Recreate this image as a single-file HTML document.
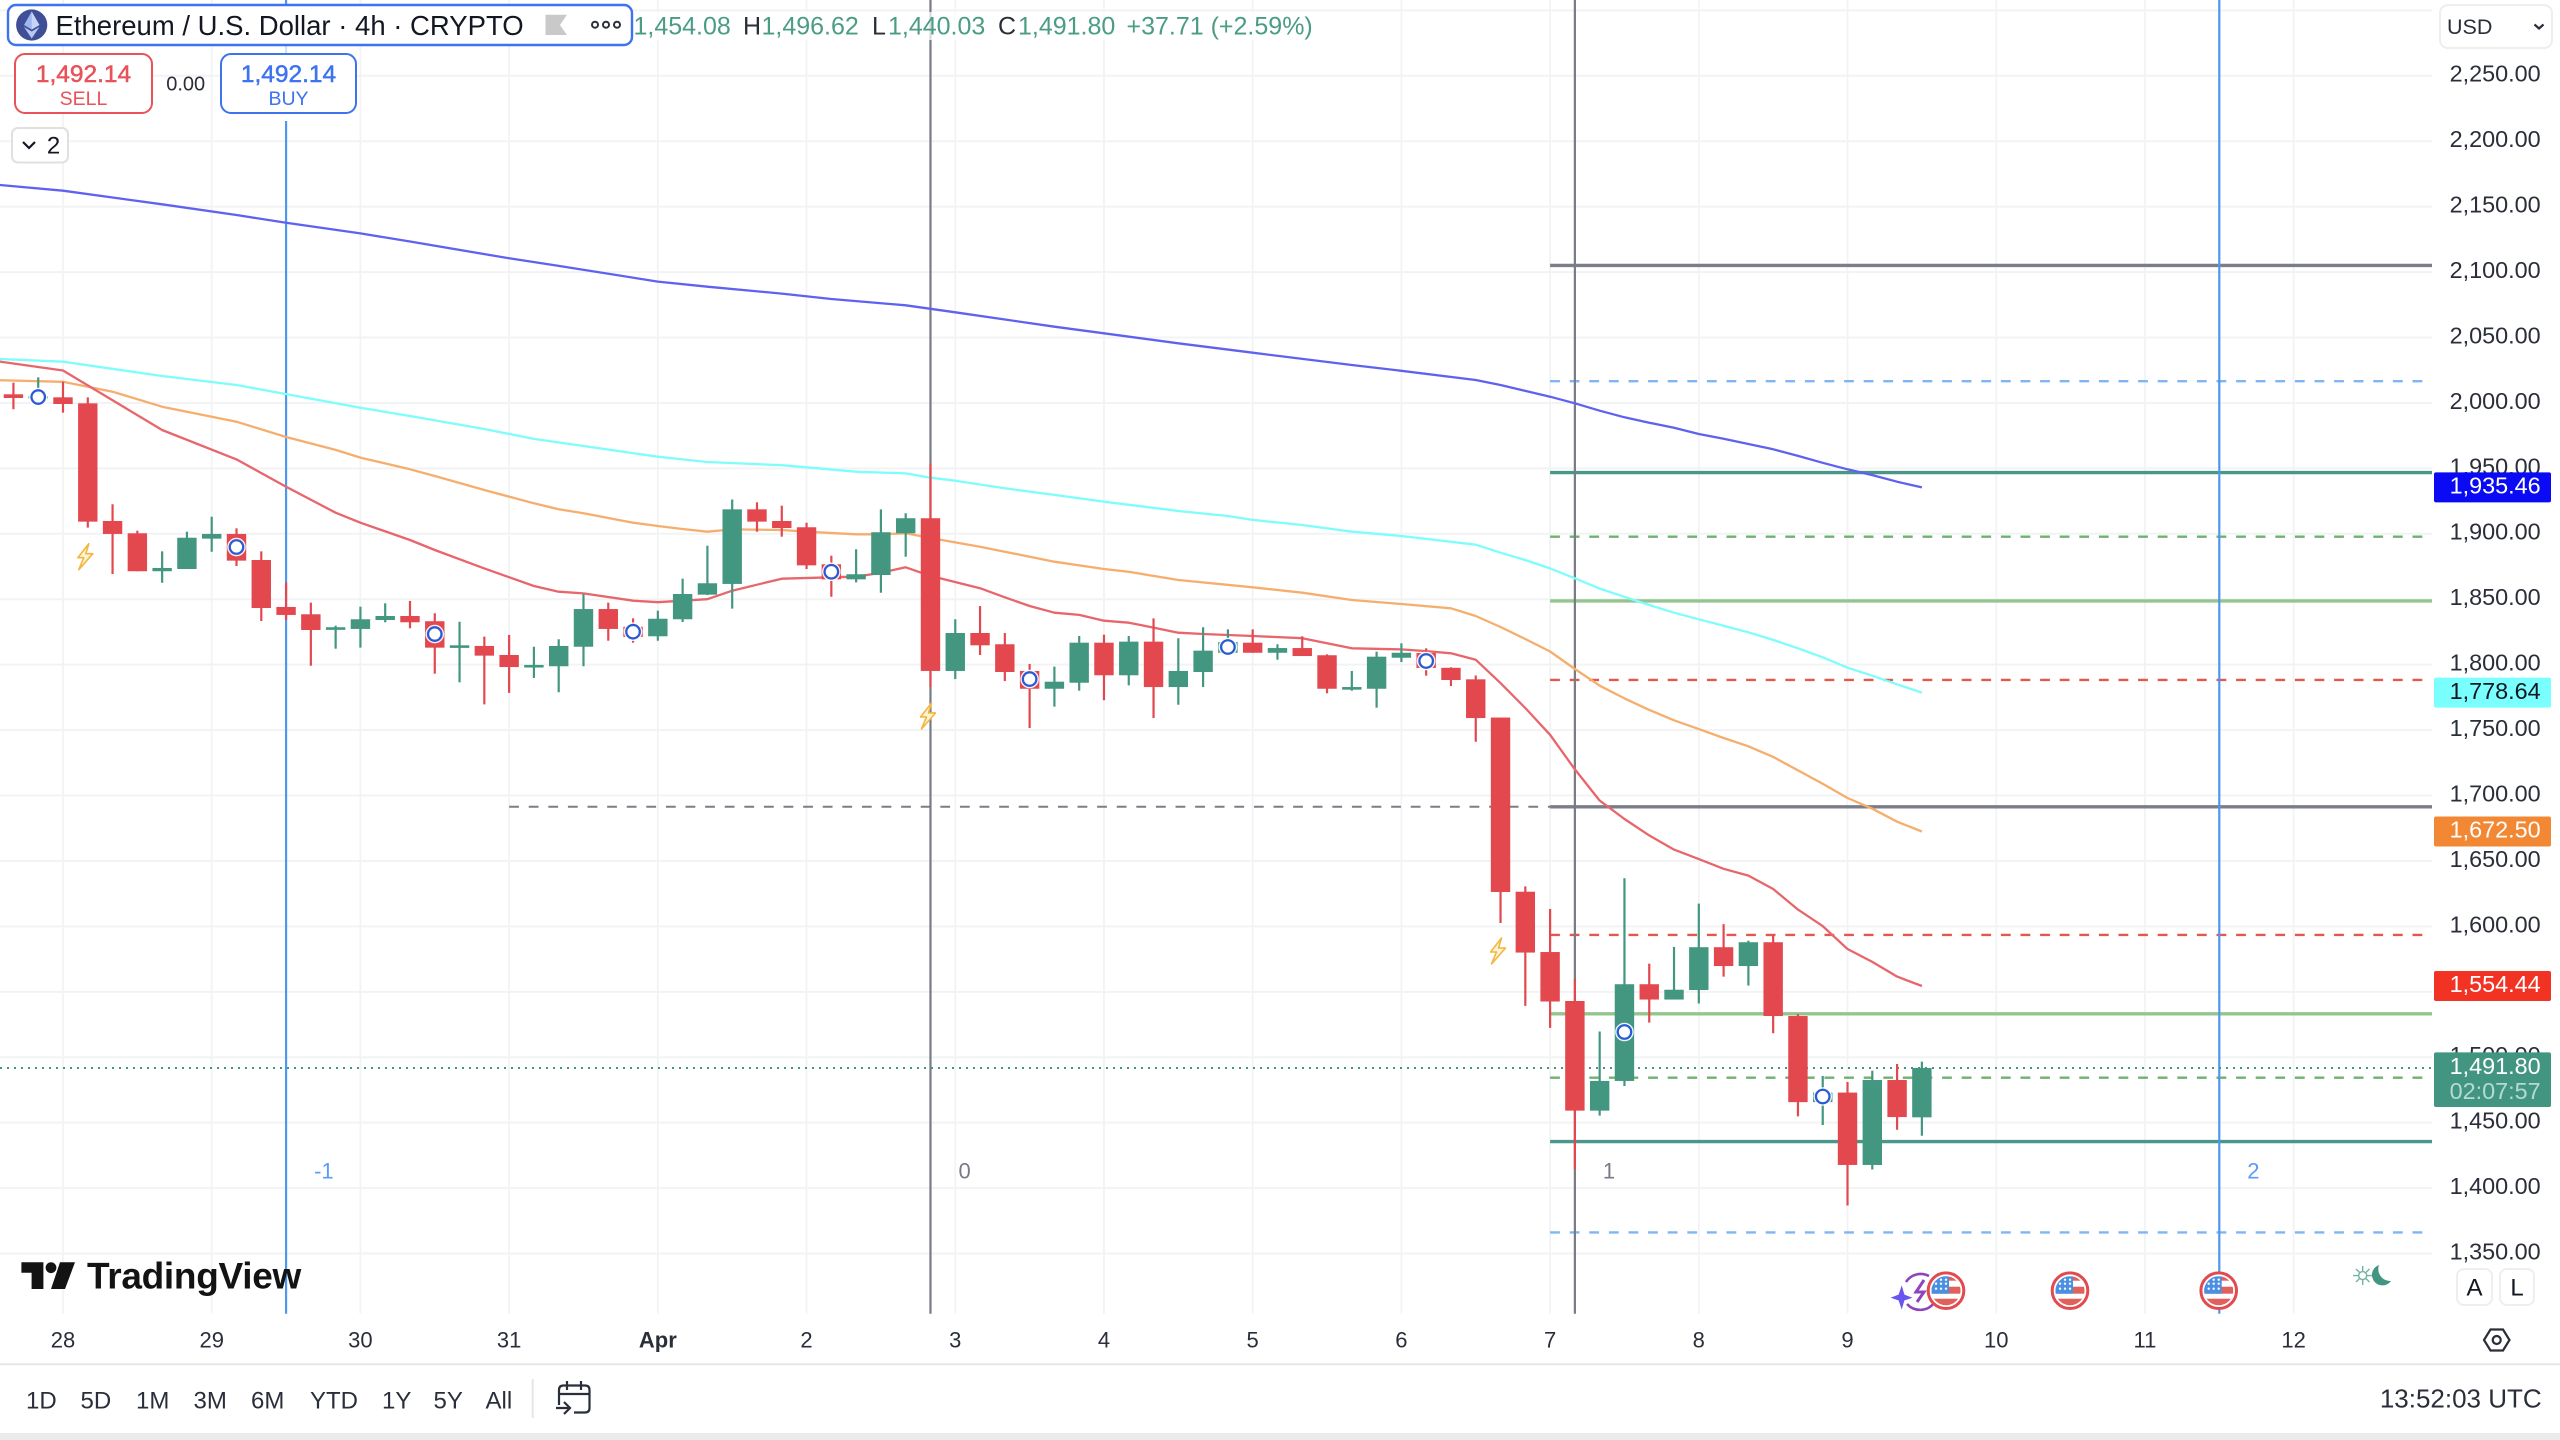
<!DOCTYPE html>
<html lang="en">
<head>
<meta charset="utf-8">
<title>Ethereum / U.S. Dollar 4h chart</title>
<style>
html,body{margin:0;padding:0;background:#fff;}
#chart-root{position:relative;width:2560px;height:1440px;overflow:hidden;background:#fff;font-family:"Liberation Sans",sans-serif;}
svg{display:block;font-family:"Liberation Sans",sans-serif;}
</style>
</head>
<body>
<div id="chart-root">
<svg id="chart" xmlns="http://www.w3.org/2000/svg" width="2560" height="1440" viewBox="0 0 2560 1440">
  <defs>
    <clipPath id="flag-clip"><circle cx="0" cy="0" r="14.5"/></clipPath>
    <clipPath id="plot-clip"><rect x="0" y="0" width="2432" height="1314"/></clipPath>
    <symbol id="us-flag" viewBox="-20 -20 40 40" overflow="visible">
      <circle cx="0" cy="0" r="17.8" fill="#fff" stroke="#e34a4f" stroke-width="3"/>
      <g clip-path="url(#flag-clip)">
        <rect x="-15" y="-4" width="30" height="7" fill="#e0605c"/>
        <rect x="-15" y="8" width="30" height="7" fill="#e0605c"/>
        <rect x="2" y="-15" width="13" height="5" fill="#e0605c"/>
        <rect x="-15" y="-15" width="18" height="18" fill="#4a90e2"/>
        <circle cx="-10" cy="-7" r="1.2" fill="#fff"/><circle cx="-5" cy="-7" r="1.2" fill="#fff"/><circle cx="0" cy="-7" r="1.2" fill="#fff"/>
        <circle cx="-10" cy="-2" r="1.2" fill="#fff"/><circle cx="-5" cy="-2" r="1.2" fill="#fff"/><circle cx="0" cy="-2" r="1.2" fill="#fff"/>
        <circle cx="-5" cy="-11" r="1.2" fill="#fff"/><circle cx="0" cy="-11" r="1.2" fill="#fff"/>
      </g>
    </symbol>
  </defs>
  <g id="layer-grid"></g>
  <g id="layer-drawings" clip-path="url(#plot-clip)"></g>
  <g id="layer-ma" clip-path="url(#plot-clip)"></g>
  <g id="layer-candles" clip-path="url(#plot-clip)"></g>
  <g id="layer-markers" clip-path="url(#plot-clip)"></g>
  <g id="layer-price-axis"></g>
  <g id="layer-time-axis"></g>

  <!-- Watermark -->
  <g>
    <path d="M21.4 1262.3H43.4V1289H31.6V1272.7H21.4Z" fill="#131313"/>
    <circle cx="51" cy="1267.7" r="5.4" fill="#131313"/>
    <path d="M60 1262.3H75L65 1289H51Z" fill="#131313"/>
    <text x="87" y="1288.5" font-size="37" font-weight="700" fill="#131313" letter-spacing="-.3">TradingView</text>
  </g>

  <!-- Event icons -->
  <g fill="none" stroke="#8e44bd" stroke-width="2.6">
    <path d="M1906 1282A17.5 17.5 0 0 1 1929 1276"/>
    <path d="M1907 1304A17.5 17.5 0 0 0 1934 1303"/>
    <path d="M1924 1280L1916 1292H1924L1917 1302" stroke-width="3"/>
    <path d="M1901.7 1287L1904 1295L1911 1297.7L1904 1300L1901.7 1308L1899 1300L1892 1297.7L1899 1295Z" fill="#6a55f0" stroke="#6a55f0" stroke-width="1"/>
  </g>
  <use href="#us-flag" x="1926" y="1270.7" width="40" height="40"/>
  <use href="#us-flag" x="2050" y="1270.7" width="40" height="40"/>
  <use href="#us-flag" x="2198.7" y="1270.7" width="40" height="40"/>

  <!-- Session icon -->
  <g>
    <g stroke="#6fb3a3" stroke-width="1.4">
      <line x1="2353" y1="1275.6" x2="2372" y2="1275.6"/>
      <line x1="2362.7" y1="1266" x2="2362.7" y2="1285"/>
      <line x1="2356" y1="1269" x2="2369.5" y2="1282"/>
      <line x1="2369.5" y1="1269" x2="2356" y2="1282"/>
    </g>
    <circle cx="2362.7" cy="1275.6" r="4" fill="#fff" stroke="#6fb3a3" stroke-width="1.4"/>
    <path d="M2379 1265A10.5 10.5 0 1 0 2391 1281A12 12 0 0 1 2379 1265Z" fill="#429681"/>
  </g>

  <!-- Legend backdrop masks -->
  <rect x="632" y="12" width="690" height="28" fill="#fff" opacity=".72"/>
  <rect x="276" y="46" width="20" height="8" fill="#fff" opacity=".72"/>
  <rect x="276" y="113" width="20" height="8" fill="#fff"/>

  <!-- Legend title -->
  <g>
    <rect x="8" y="5" width="624" height="40" rx="8" fill="#fff" stroke="#3d73f0" stroke-width="2.4"/>
    <g>
      <circle cx="31.7" cy="25" r="15.6" fill="#3f4f97"/>
      <path d="M31.7 11.5L24 25L31.7 29.5L39.4 25Z" fill="#9fb6ee"/>
      <path d="M31.7 11.5V29.5L39.4 25Z" fill="#c6d4f6"/>
      <path d="M24 27L31.7 38.5L39.4 27L31.7 31.5Z" fill="#b7c8f2"/>
    </g>
    <text x="55.5" y="34.8" font-size="27.5" fill="#131722">Ethereum / U.S. Dollar · 4h · CRYPTO</text>
    <path d="M545.5 14.7H567L560 25L567 35H545.5Z" fill="#c9c9c9"/>
    <g fill="none" stroke="#2a2e39" stroke-width="2">
      <circle cx="595" cy="24.7" r="3"/><circle cx="606" cy="24.7" r="3"/><circle cx="617" cy="24.7" r="3"/>
    </g>
  </g>

  <!-- OHLC values -->
  <g font-size="25" fill="#4a9c85">
    <text x="633.5" y="34.7">1,454.08</text>
    <text x="743" y="34.7" fill="#2a2e39">H</text>
    <text x="761.5" y="34.7">1,496.62</text>
    <text x="872" y="34.7" fill="#2a2e39">L</text>
    <text x="888" y="34.7">1,440.03</text>
    <text x="998" y="34.7" fill="#2a2e39">C</text>
    <text x="1018" y="34.7">1,491.80</text>
    <text x="1126.5" y="34.7">+37.71 (+2.59%)</text>
  </g>

  <!-- Sell / Buy -->
  <g>
    <rect x="15" y="54" width="137" height="59" rx="10" fill="#fff" stroke="#ea5259" stroke-width="2"/>
    <text x="83.5" y="82" text-anchor="middle" font-size="24.5" fill="#e8525a" stroke="#e8525a" stroke-width=".5">1,492.14</text>
    <text x="83.5" y="105" text-anchor="middle" font-size="19.5" fill="#e8525a">SELL</text>
  </g>
  <text x="185.7" y="90.5" text-anchor="middle" font-size="20" fill="#2a2e39">0.00</text>
  <g>
    <rect x="221" y="54" width="135" height="59" rx="10" fill="#fff" stroke="#3d73f0" stroke-width="2"/>
    <text x="288.5" y="82" text-anchor="middle" font-size="24.5" fill="#3d73f0" stroke="#3d73f0" stroke-width=".5">1,492.14</text>
    <text x="288.5" y="105" text-anchor="middle" font-size="19.5" fill="#3d73f0">BUY</text>
  </g>
  <g>
    <rect x="12" y="128" width="56" height="34.5" rx="6" fill="#fff" stroke="#e0e0e0" stroke-width="2"/>
    <path d="M23 142L29 148L35 142" fill="none" stroke="#131722" stroke-width="2.2"/>
    <text x="53.5" y="153.5" text-anchor="middle" font-size="24" fill="#131722">2</text>
  </g>

  <!-- Scale controls -->
  <g>
    <rect x="2440" y="5" width="112" height="43" rx="8" fill="#fff" stroke="#eee" stroke-width="2"/>
    <text x="2447" y="34" font-size="21.5" fill="#2a2e39">USD</text>
    <path d="M2534.5 24.5L2539 28.5L2543.5 24.5" fill="none" stroke="#2a2e39" stroke-width="2.2"/>
  </g>
  <g>
    <rect x="2457" y="1269" width="35" height="36" rx="7" fill="#fff" stroke="#eee" stroke-width="2"/>
    <text x="2474.5" y="1295.5" text-anchor="middle" font-size="24" fill="#131722">A</text>
  </g>
  <g>
    <rect x="2500" y="1269" width="34" height="36" rx="7" fill="#fff" stroke="#eee" stroke-width="2"/>
    <text x="2517" y="1295.5" text-anchor="middle" font-size="24" fill="#131722">L</text>
  </g>
  <g fill="none" stroke="#2a2e39" stroke-width="2.2">
    <path d="M2484 1340L2490.5 1329.5H2503L2509.5 1340L2503 1350.5H2490.5Z"/>
    <circle cx="2496.7" cy="1340" r="4"/>
  </g>

  <!-- Footer -->
  <line x1="0" y1="1364.3" x2="2560" y2="1364.3" stroke="#e6e6e6" stroke-width="2"/>
  <g font-size="24" fill="#2a2e39">
    <text x="26" y="1408.5">1D</text>
    <text x="80.5" y="1408.5">5D</text>
    <text x="136" y="1408.5">1M</text>
    <text x="193.5" y="1408.5">3M</text>
    <text x="251" y="1408.5">6M</text>
    <text x="310" y="1408.5">YTD</text>
    <text x="382" y="1408.5">1Y</text>
    <text x="433.5" y="1408.5">5Y</text>
    <text x="485.5" y="1408.5">All</text>
  </g>
  <line x1="532.7" y1="1379" x2="532.7" y2="1418" stroke="#e6e6e6" stroke-width="2"/>
  <g fill="none" stroke="#2a2e39" stroke-width="2.2">
    <path d="M559 1405V1390Q559 1385.5 563.5 1385.5H585Q589.5 1385.5 589.5 1390V1408Q589.5 1412.5 585 1412.5H574"/>
    <line x1="559" y1="1394" x2="589.5" y2="1394"/>
    <line x1="567" y1="1381" x2="567" y2="1390"/>
    <line x1="581" y1="1381" x2="581" y2="1390"/>
    <path d="M556 1408H570M564 1402L570 1408L564 1414"/>
  </g>
  <text x="2541.7" y="1407.6" text-anchor="end" font-size="26" fill="#2a2e39">13:52:03 UTC</text>
  <rect x="0" y="1433" width="2560" height="7" fill="#ebebeb"/>
</svg>
</div>

<script>
// ---- Candlestick data: first bar is firstBar (bar 0 = 28 March 00:00), one bar every 4 hours ----
const firstBar = -2;
const opens = [2006.6,2004.3,2004.3,1999.7,1909.8,1900.4,1871.4,1873.1,1896.3,1899.9,1880,1844.1,1838.5,1827.5,1827.3,1834.1,1837.2,1833.2,1813.7,1814.3,1807.4,1799,1798.8,1813.7,1842.5,1829,1821.7,1834.7,1853.5,1861.7,1918.7,1909.8,1905,1876.7,1865.2,1868.5,1900.4,1911.9,1795.2,1824.2,1815.6,1795.2,1781.6,1786.2,1816.8,1791.9,1817.6,1782.9,1794.4,1809.1,1816.8,1809.1,1812.7,1807.2,1781.4,1781.6,1805.3,1808.9,1797.6,1788.8,1759.6,1626.5,1580.4,1543,1459.2,1481.9,1555.8,1544.1,1551.4,1584.1,1569.7,1587.9,1531.5,1465.7,1473,1417.7,1482.6,1454.08];
const highs = [2015.5,2019.6,2016.2,2004.3,1922.6,1902.4,1886.6,1901.6,1913.1,1904.2,1886.6,1862.9,1847.4,1829.8,1844.3,1846.9,1848.7,1839.3,1832.8,1821.4,1822.7,1813.7,1819.4,1854,1847.4,1835.4,1841.3,1865.7,1890.9,1926.2,1924.1,1921.5,1908.5,1883.3,1888.2,1918.7,1915.7,1953.7,1834.7,1844.8,1824.2,1800.5,1798.5,1821.9,1822.9,1821.9,1835.4,1820.2,1828.6,1827,1827,1815.6,1821.7,1807.9,1795.2,1809.9,1816.3,1812.5,1798,1791.7,1759.6,1630.6,1613.3,1559.8,1519.7,1636.8,1571.5,1584.3,1617.4,1601.7,1589.1,1593.2,1533,1485.7,1481.1,1489.7,1494.8,1496.62];
const lows = [1995.2,1999.2,1992.6,1904.7,1869.3,1871.4,1862.6,1873.1,1886.3,1875.4,1833.4,1834.1,1799.2,1812.2,1813,1832.4,1827.8,1793.1,1786.5,1769.7,1778.4,1789.8,1778.9,1798.8,1818.3,1816.8,1818.3,1832.6,1853.2,1842.8,1901.6,1897.8,1873.1,1851.9,1862.9,1855,1882.5,1782.9,1789,1807.4,1787.5,1751.6,1767.9,1780.1,1772.8,1784.2,1759.2,1769.4,1782.9,1808.9,1809.1,1803.8,1806.6,1778.1,1780.1,1767.1,1802,1791.6,1783.7,1741.1,1602.6,1539.3,1522.4,1414.2,1455.4,1478,1526.5,1544.1,1541.1,1561.6,1554.8,1518.3,1454.8,1448.2,1386.7,1414.2,1444.6,1440.03];
const closes = [2003.8,2005.3,1999.2,1909.3,1899.9,1871.4,1873.9,1897,1899.9,1879.5,1843.3,1838,1826.5,1828.6,1834.7,1837.2,1832.4,1813,1814.8,1806.9,1798.2,1799.8,1814.3,1842.5,1827.3,1821.2,1835.1,1854,1862.2,1918.7,1909.3,1904.4,1875.9,1865.2,1869.1,1901.2,1911.9,1795.2,1824.2,1814.8,1794.4,1781.6,1787,1816.8,1791.9,1817.6,1782.9,1795.2,1810.7,1817.3,1809.1,1812.7,1806.6,1781.6,1782.9,1806.1,1809.1,1797.5,1788.3,1759.2,1626.3,1580,1542.6,1459.2,1481.9,1555.8,1544.1,1551.6,1584.1,1569.7,1587.9,1531.5,1465.7,1473,1417.7,1482.6,1454.3,1491.80];

// ---- Moving-average series: bar index + value ----
const blueMaBars = [-3,0,4,7,9,12,14,18,20,24,26,29,31,34,36,40,42,45,48,52,54,57,58,60,61,62,63,64,65,66,67,68,69,70,71,72,73,74,75];
const blueMaValues = [2167.3,2162.2,2151.8,2143.6,2137.7,2129.6,2123.4,2110.5,2104.7,2092.7,2088.8,2083.6,2079.4,2074.6,2069.3,2058.3,2053.2,2045.6,2038.4,2029,2024.6,2017.5,2013.7,2004.8,1999.7,1994.1,1989,1984.9,1981.1,1976.3,1972.7,1968.6,1964.6,1959.5,1954.3,1949.3,1944.9,1939.8,1935.46];
const cyanMaBars = [-3,0,4,7,9,12,14,17,19,21,24,25,26,29,30,32,34,35,36,38,40,42,45,47,48,50,52,54,57,58,59,60,61,62,63,64,65,66,67,68,69,70,71,72,73,74,75];
const cyanMaValues = [2034,2031.5,2020.6,2013.7,2006.8,1996.4,1990,1980.1,1972.5,1967.1,1958.9,1956.9,1954.9,1952.4,1950.8,1947.5,1946.2,1942.9,1940.6,1934.8,1929.7,1924.5,1917.4,1913.6,1910.6,1906.7,1901.6,1898.3,1891.7,1885.6,1880,1873.6,1866,1858.1,1851.9,1845.6,1839.7,1834.7,1829.8,1824.7,1818.9,1812.5,1805.6,1797.7,1791.6,1785,1778.64];
const orangeMaBars = [-3,0,2,4,7,9,11,12,14,15,17,19,20,21,23,24,25,26,27,29,30,32,33,34,35,37,38,40,42,43,45,48,50,52,54,56,57,58,59,60,61,62,63,64,65,66,67,68,69,70,71,72,73,74,75];
const orangeMaValues = [2017.5,2016.2,2008.6,1997.1,1985.7,1974,1964.1,1958.2,1949.3,1944.2,1933.5,1923.3,1918.7,1915.7,1908.5,1906,1903.7,1901.6,1903.4,1902.9,1901.6,1899.6,1899.6,1900.4,1896.8,1890.1,1886.3,1878.7,1873.1,1871,1864.7,1859.1,1855,1849.4,1846.4,1843.1,1837.2,1828.8,1819.6,1810.1,1796.7,1783.9,1774.2,1765.4,1757.5,1750.8,1744,1737.6,1729.5,1719.2,1709,1698.1,1689.9,1680,1672.5];
const redMaBars = [-3,0,4,7,9,11,12,14,15,17,19,20,21,23,24,25,26,27,29,31,32,33,34,35,37,38,39,40,41,42,43,44,45,46,48,50,51,52,54,55,56,57,58,59,60,61,62,63,64,65,66,67,68,69,70,71,72,73,74,75];
const redMaValues = [2032.8,2024.8,1979.3,1956.9,1936,1916.1,1908.5,1895.3,1887.6,1873.6,1860.1,1855.8,1854.5,1848.9,1847.7,1848.9,1850,1856.5,1865.7,1866.8,1867.2,1870.3,1874.4,1867.8,1858.4,1851.5,1844.8,1839.7,1838,1833.6,1832.1,1828.3,1824.4,1823.4,1821.9,1820.2,1816.3,1812.5,1811.7,1810.4,1808.7,1803.8,1785.9,1766.9,1746.4,1720,1696.1,1682.1,1669.5,1658.7,1651.4,1644,1638.8,1628.6,1612.8,1600.2,1582.7,1572.9,1561.6,1554.44];

// ---- Axis labels ----
const gridPrices = [2300,2250,2200,2150,2100,2050,2000,1950,1900,1850,1800,1750,1700,1650,1600,1550,1500,1450,1400,1350];
const priceTickLabels = ['2,250.00','2,200.00','2,150.00','2,100.00','2,050.00','2,000.00','1,950.00','1,900.00','1,850.00','1,800.00','1,750.00','1,700.00','1,650.00','1,600.00','1,550.00','1,500.00','1,450.00','1,400.00','1,350.00'];
const dayLabels = ['28','29','30','31','Apr','2','3','4','5','6','7','8','9','10','11','12'];
const barsPerDay = 6;

// ---- Horizontal drawing levels ----
const solidLevels = [2105.1,1946.8,1848.7,1691.4,1533.2,1435.6];
const dashedLevels = [2016.6,1897.8,1788.3,1593.5,1484.4,1366.1];
const levelStartBar = 60;
const priorLevelStartBar = 18;
const priorLevel = 1691.4;

// ---- Cycle lines ----
const cycleBars = [9,35,61,87];
const cycleLabels = ['-1','0','1','2'];

// ---- Markers ----
const dividendBars = [-1,7,15,23,31,39,47,55,63,71];
const dividendPrices = [2004.5,1889.9,1823.4,1825.2,1871,1789,1813.5,1802.8,1519.3,1470];
const boltBars = [1,35,58];
const boltPrices = [1882.5,1760.8,1581.2];

// ---- Axis functions ----
function xScale(bar){return 63 + 24.785*bar;}
function yScale(price){return 75.8 + (2250-price)*1.3086;}

const NS='http://www.w3.org/2000/svg';
function make(tag,attrs,parent,txt){
  const el=document.createElementNS(NS,tag);
  for(const k in attrs){el.setAttribute(k,attrs[k]);}
  if(txt!==undefined){el.textContent=txt;}
  parent.appendChild(el);
  return el;
}
const gridLayer=document.getElementById('layer-grid');
const drawLayer=document.getElementById('layer-drawings');
const maLayer=document.getElementById('layer-ma');
const candleLayer=document.getElementById('layer-candles');
const markerLayer=document.getElementById('layer-markers');
const priceLayer=document.getElementById('layer-price-axis');
const timeLayer=document.getElementById('layer-time-axis');
const plotRight=2432, plotBottom=1313.7;

// Grid
gridPrices.forEach(function(p){
  const el=make('line',{x1:0,x2:plotRight,y1:yScale(p),y2:yScale(p),stroke:'#f2f3f4','stroke-width':2},gridLayer);
  
  
});
dayLabels.forEach(function(d,i){
  const x=xScale(i*barsPerDay);
  const el=make('line',{x1:x,x2:x,y1:0,y2:plotBottom,stroke:'#f2f3f4','stroke-width':1.8},gridLayer);
  
  
});

// Horizontal drawings
const solidColors=['#7b7d88','#4a9688','#94c58e','#7b7d88','#94c58e','#4a9688'];
const dashedColors=['#7fb5f2','#6fb16e','#e2584f','#e2584f','#6fb16e','#7fb5f2'];
solidLevels.forEach(function(p,i){
  const el=make('line',{x1:xScale(levelStartBar),x2:plotRight,y1:yScale(p),y2:yScale(p),stroke:solidColors[i],'stroke-width':3.4},drawLayer);
  
  
});
dashedLevels.forEach(function(p,i){
  const el=make('line',{x1:xScale(levelStartBar),x2:plotRight,y1:yScale(p),y2:yScale(p),stroke:dashedColors[i],'stroke-width':2.4,'stroke-dasharray':'9.8 9.8'},drawLayer);
  
  
});
const priorLine=make('line',{x1:xScale(priorLevelStartBar),x2:xScale(levelStartBar),y1:yScale(priorLevel),y2:yScale(priorLevel),stroke:'#7b7d88','stroke-width':2,'stroke-dasharray':'9.8 9.8'},drawLayer);



// Cycle lines
cycleBars.forEach(function(b,i){
  const gray=i===1||i===2;
  const col=gray?'#787b86':'#4d97ef';
  const x=xScale(b);
  const ln=make('line',{x1:x,x2:x,y1:0,y2:plotBottom,stroke:col,'stroke-width':2.2},drawLayer);
  
  
  const t=make('text',{x:x+28,y:1178.5,'font-size':22,fill:gray?'#787b86':'#5b9cf6'},drawLayer,cycleLabels[i]);
  
  
});

// Current price dotted line (from last close)
const lastClose=closes[closes.length-1];
const dotted=make('line',{x1:0,x2:plotRight,y1:yScale(lastClose),y2:yScale(lastClose),stroke:'#429681','stroke-width':2,'stroke-dasharray':'2 5'},drawLayer);



// Moving averages
function drawMa(bars,values,color,name){
  const d=bars.map(function(b,i){return (i?'L':'M')+xScale(b).toFixed(1)+' '+yScale(values[i]).toFixed(1);}).join('');
  const el=make('path',{d:d,fill:'none',stroke:color,'stroke-width':2.3,'stroke-linejoin':'round'},maLayer);
  
  
}
drawMa(blueMaBars,blueMaValues,'#5f62ef','ma-line-blue');
drawMa(cyanMaBars,cyanMaValues,'#7ffcfc','ma-line-cyan');
drawMa(orangeMaBars,orangeMaValues,'#f5ae6d','ma-line-orange');
drawMa(redMaBars,redMaValues,'#e8666b','ma-line-red');

// Candles
const upColor='#439680', downColor='#e2484e';
opens.forEach(function(o,i){
  const bar=firstBar+i;
  const c=closes[i], h=highs[i], l=lows[i];
  const col=c>=o?upColor:downColor;
  const x=xScale(bar);
  const wick=make('line',{x1:x,x2:x,y1:yScale(h),y2:yScale(l),stroke:col,'stroke-width':2.2},candleLayer);
  
  
  const top=yScale(Math.max(o,c));
  const bh=Math.max(Math.abs(yScale(o)-yScale(c)),2.6);
  const body=make('rect',{x:x-9.7,y:top,width:19.4,height:bh,fill:col},candleLayer);
  
  
});

// Markers
dividendBars.forEach(function(b,i){
  const m=make('circle',{cx:xScale(b),cy:yScale(dividendPrices[i]),r:6.8,fill:'#fff',stroke:'#2a5bd7','stroke-width':2.4},markerLayer);
  
  
  const halo=make('circle',{cx:xScale(b),cy:yScale(dividendPrices[i]),r:8.6,fill:'none',stroke:'#fff','stroke-width':1.4,opacity:.9},markerLayer);
  
  
});
boltBars.forEach(function(b,i){
  const x=xScale(b)-3, y=yScale(boltPrices[i]);
  const d='M'+(x+4)+' '+(y-13)+'L'+(x-7)+' '+(y+1)+'L'+(x-1)+' '+(y+1)+'L'+(x-6)+' '+(y+13)+'L'+(x+8)+' '+(y-3)+'L'+(x+1)+' '+(y-3)+'Z';
  const m=make('path',{d:d,fill:'#fff3d6',stroke:'#f3b63f','stroke-width':1.6,'stroke-linejoin':'round'},markerLayer);
  
  
});

// Price axis labels
priceTickLabels.forEach(function(label){
  const p=parseFloat(label.replace(/,/g,''));
  const t=make('text',{x:2540.7,y:yScale(p)+5.9,'text-anchor':'end','font-size':23.4,fill:'#2a2e39'},priceLayer,label);
  
  
});

// Price chips driven by the last value of each series
function fmt(v){return v.toLocaleString('en-US',{minimumFractionDigits:2,maximumFractionDigits:2});}
function chip(value,bg,fg,name){
  const y=yScale(value);
  const r=make('rect',{x:2434,y:y-15,width:117,height:30,rx:2,fill:bg},priceLayer);
  
  
  const t=make('text',{x:2540.7,y:y+6.2,'text-anchor':'end','font-size':23.4,fill:fg},priceLayer,fmt(value));
  
  
}
chip(blueMaValues[blueMaValues.length-1],'#0a0af5','#fff','blue-ma');
chip(cyanMaValues[cyanMaValues.length-1],'#79fffe','#131722','cyan-ma');
chip(orangeMaValues[orangeMaValues.length-1],'#f28834','#fff','orange-ma');
chip(redMaValues[redMaValues.length-1],'#f23324','#fff','red-ma');

const lastY=yScale(lastClose);
const priceChip=make('rect',{x:2434,y:lastY-15.6,width:117,height:54.6,rx:2,fill:'#429681'},priceLayer);


const priceChipText=make('text',{x:2540.7,y:lastY+6,'text-anchor':'end','font-size':23.4,fill:'#fff'},priceLayer,fmt(lastClose));


const countdownText=make('text',{x:2540.7,y:lastY+31,'text-anchor':'end','font-size':23.4,fill:'#b5dbd0'},priceLayer,'02:07:57');



// Time axis labels
dayLabels.forEach(function(d,i){
  const t=make('text',{x:xScale(i*barsPerDay),y:1347.7,'text-anchor':'middle','font-size':22,fill:'#2a2e39','font-weight':d==='Apr'?700:400},timeLayer,d);
  
  
});
</script>
</body>
</html>
